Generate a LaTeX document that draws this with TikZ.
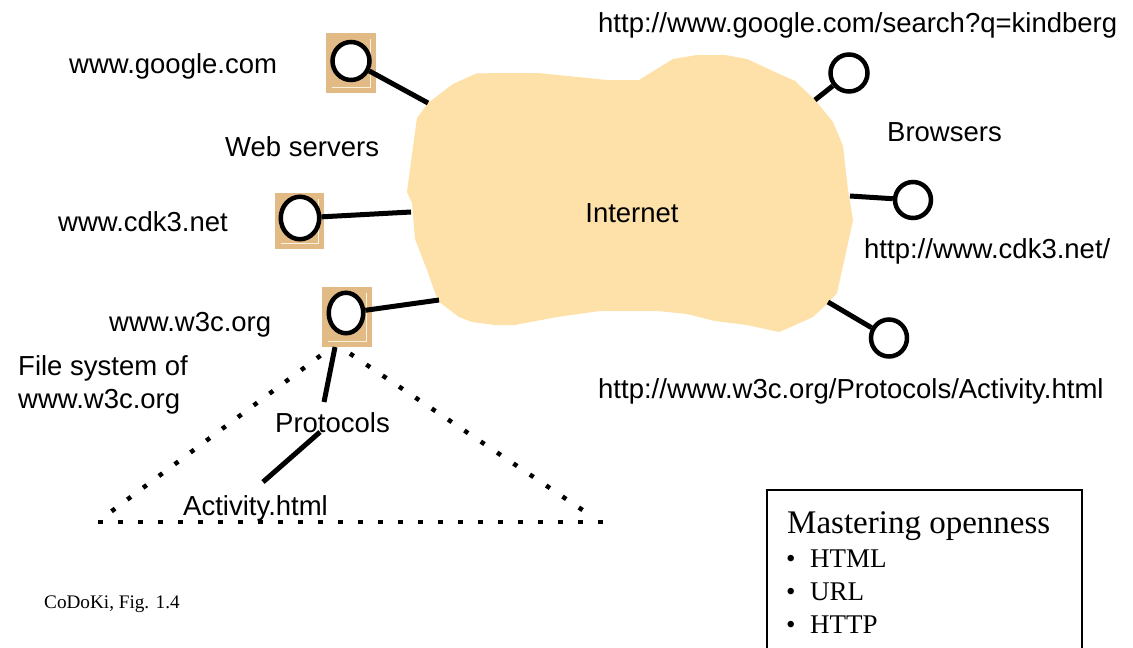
\documentclass[tikz,border=0pt]{standalone}
\usepackage{fontspec}
\setmainfont{Liberation Sans}
\newfontfamily\seriffont{Liberation Serif}
\usetikzlibrary{shapes.geometric}
\definecolor{cloudc}{RGB}{254,225,168}
\definecolor{srvtan}{RGB}{226,186,134}
\definecolor{creamline}{RGB}{255,242,220}
\tikzset{
  lbl/.style={anchor=base west, inner sep=0pt, font=\fontsize{27.5}{33}\selectfont},
  srvbox/.style={draw=none, fill=srvtan, inner sep=0pt, minimum width=50pt, minimum height=60pt},
  ring/.style={ellipse, draw, line width=4.5pt, fill=white, inner sep=0pt},
  conn/.style={line width=5pt},
  slopedots/.style={line width=4.5pt, dash pattern=on 4.5pt off 15.2pt},
  basedots/.style={line width=4.5pt, dash pattern=on 4.5pt off 15.5pt},
  hl/.style={draw=creamline, line width=1pt},
  menu/.style={anchor=base west, inner sep=0pt, font=\seriffont\fontsize{27}{33}\selectfont},
}
\begin{document}
\begin{tikzpicture}[x=1pt,y=-1pt]
\useasboundingbox (0,0) rectangle (1133,648);
\clip (0,0) rectangle (1133,648);
\fill[white] (0,0) rectangle (1133,648);

% cloud
\fill[cloudc] (476.7,73.3) -- (538,73) -- (607,80) -- (639,80) -- (673,59) -- (697,55)
  -- (725,55) -- (747,59) -- (777,73) -- (795,81) -- (815,100) -- (833,122) -- (843,146)
  -- (848,190) -- (853,220) -- (845,257) -- (837,293) -- (828,303) -- (813,317)
  -- (793,326) -- (779,332) -- (747,325) -- (715,321) -- (687,314) -- (658,311)
  -- (600,311) -- (557,317) -- (515,325) -- (495,325) -- (472,322) -- (459,317)
  -- (438,301) -- (427,270) -- (415,239) -- (412,203) -- (407,192) -- (413,147)
  -- (417,118) -- (428,103) -- (453,84) -- cycle;
\node[anchor=base, inner sep=0pt, font=\fontsize{27.5}{33}\selectfont] (inet) at (632,222) {Internet};

% cloud edge points
\coordinate (c1) at (428,103);
\coordinate (c2) at (411,212);
\coordinate (c3) at (439,300);
\coordinate (c4) at (815,100);
\coordinate (c5) at (850,196);
\coordinate (c6) at (828,302);

% servers
\node[srvbox] (s1) at (351,63) {};
\node[srvbox, minimum width=49pt, minimum height=56pt] (s2) at (299.5,221) {};
\node[srvbox] (s3) at (347,317) {};
\foreach \s in {s1,s2,s3}{
  \draw[hl] ([xshift=-6pt,yshift=-6pt]\s.north east) -- ([xshift=-6pt,yshift=6pt]\s.south east)
            -- ([xshift=6pt,yshift=6pt]\s.south west);
}
\node[ring, minimum width=37pt, minimum height=38pt] (r1) at (351,61) {};
\node[ring, minimum width=38.5pt, minimum height=42.5pt] (r2) at (300,218) {};
\node[ring, minimum width=34.5pt, minimum height=40.5pt] (r3) at (346,313) {};

% browsers
\node[ring, minimum width=37pt, minimum height=37pt] (b1) at (849,73) {};
\node[ring, minimum width=36pt, minimum height=36pt] (b2) at (913,200) {};
\node[ring, minimum width=36pt, minimum height=37pt] (b3) at (889,338) {};

% connectors
\draw[conn] (r1) -- (c1);
\draw[conn] (r2) -- (c2);
\draw[conn] (r3) -- (c3);
\draw[conn] (b1) -- (c4);
\draw[conn] (b2) -- (c5);
\draw[conn] (b3) -- (c6);

% file system
\coordinate (p0) at (335,347);
\coordinate (p1) at (324,402);
\coordinate (a0) at (320,432);
\coordinate (a1) at (263,482);
\draw[conn] (p0) -- (p1);
\draw[conn] (a0) -- (a1);
\coordinate (t1) at (111.5,511.3);
\coordinate (t2) at (324,353);
\coordinate (t3) at (350,353.6);
\coordinate (t4) at (584,511);
\coordinate (t5) at (98,522);
\coordinate (t6) at (603,522);
\draw[slopedots] (t1) -- (t2);
\draw[slopedots] (t3) -- (t4);
\draw[basedots] (t5) -- (t6);

% labels
\node[lbl] (lgq) at (598,32) {http://www.google.com/search?q=kindberg};
\node[lbl] (lg) at (69,73) {www.google.com};
\node[lbl] (lws) at (225,156) {Web servers};
\node[lbl] (lcdk) at (58,231) {www.cdk3.net};
\node[lbl] (lw3) at (109,331) {www.w3c.org};
\node[lbl] (lfs1) at (18,375) {File system of};
\node[lbl] (lfs2) at (18,408) {www.w3c.org};
\node[lbl] (lprot) at (275,432) {Protocols};
\node[lbl] (lact) at (183,515) {Activity.html};
\node[lbl] (lbr) at (887,141) {Browsers};
\node[lbl] (lcdku) at (864,258) {http://www.cdk3.net/};
\node[lbl] (lw3u) at (598,398) {http://www.w3c.org/Protocols/Activity.html};

% openness box
\draw[line width=2pt] (767,490) rectangle (1082,680);
\node[anchor=base west, inner sep=0pt, font=\seriffont\fontsize{33}{38}\selectfont] (mo) at (787,533) {Mastering openness};
\node[menu] (m1) at (786,567) {\makebox[24pt][l]{•}HTML};
\node[menu] (m2) at (786,600) {\makebox[24pt][l]{•}URL};
\node[menu] (m3) at (786,633) {\makebox[24pt][l]{•}HTTP};

\node[anchor=base west, inner sep=0pt, font=\seriffont\fontsize{19.2}{22}\selectfont] (cap) at (44,608) {CoDoKi, Fig. 1.4};
\end{tikzpicture}
\end{document}
